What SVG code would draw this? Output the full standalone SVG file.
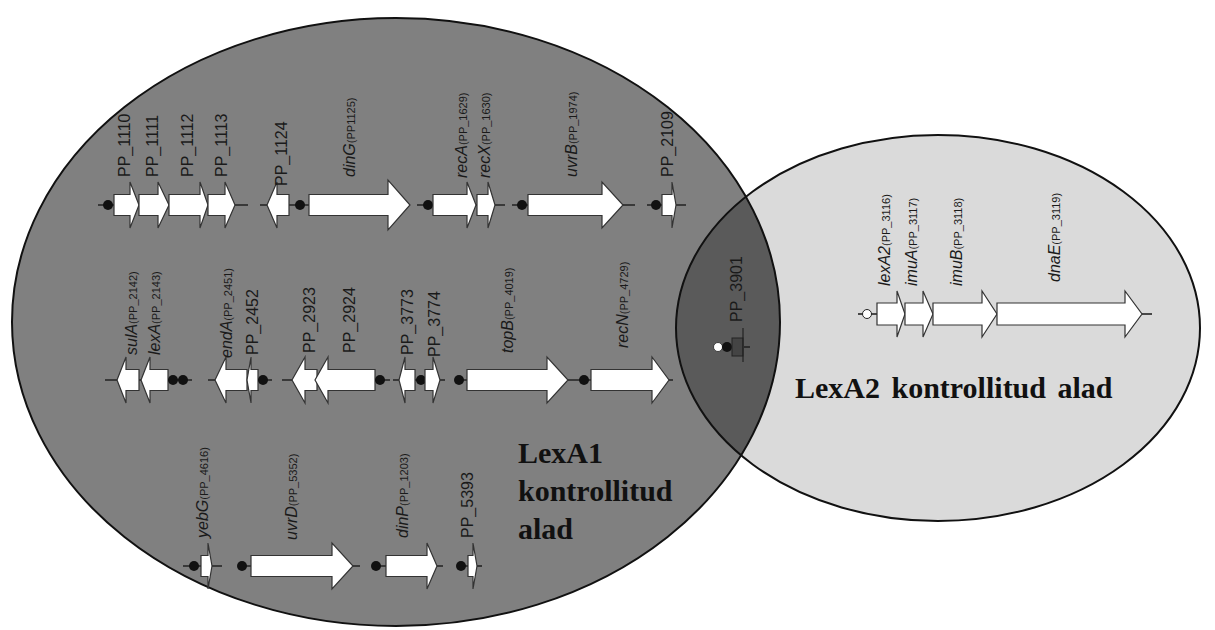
<svg xmlns="http://www.w3.org/2000/svg" width="1215" height="630" viewBox="0 0 1215 630">
<style>
.gene{fill:#fff;stroke:#333;stroke-width:1.2;stroke-linejoin:miter}
.ln{stroke:#222;stroke-width:1.6;fill:none}
.dot{fill:#111}
.lbl{font-family:"Liberation Sans",Arial,sans-serif;font-size:16px;fill:#1a1a1a}
.it{font-style:italic}
.sub{font-size:11px}
.big{font-family:"Liberation Serif","Times New Roman",serif;font-weight:bold;font-size:30px;fill:#111}
</style>
<defs>
<clipPath id="bigClip"><ellipse cx="396" cy="322" rx="384" ry="304"/></clipPath>
</defs>
<rect width="1215" height="630" fill="#fff"/>
<g id="regions">
<ellipse id="lexa1-region" cx="396" cy="322" rx="384" ry="304" fill="#808080"/>
<ellipse id="lexa2-region" cx="938" cy="328" rx="262" ry="193" fill="#dadada"/>
<ellipse id="overlap" cx="938" cy="328" rx="262" ry="193" fill="#5a5a5a" clip-path="url(#bigClip)"/>
<ellipse cx="396" cy="322" rx="384" ry="304" fill="none" stroke="#111" stroke-width="2"/>
<ellipse cx="938" cy="328" rx="262" ry="193" fill="none" stroke="#111" stroke-width="2"/>
</g>
<g id="connectors">
<line class="ln" x1="98" y1="205" x2="248" y2="205"/>
<line class="ln" x1="260" y1="205" x2="309" y2="205"/>
<line class="ln" x1="417" y1="205" x2="505" y2="205"/>
<line class="ln" x1="512" y1="205" x2="635" y2="205"/>
<line class="ln" x1="647" y1="205" x2="686" y2="205"/>
<line class="ln" x1="105" y1="380" x2="192" y2="380"/>
<line class="ln" x1="208" y1="380" x2="272" y2="380"/>
<line class="ln" x1="282" y1="380" x2="390" y2="380"/>
<line class="ln" x1="393" y1="380" x2="445" y2="380"/>
<line class="ln" x1="455" y1="380" x2="577" y2="380"/>
<line class="ln" x1="577" y1="380" x2="673" y2="380"/>
<line class="ln" x1="183" y1="566" x2="222" y2="566"/>
<line class="ln" x1="238" y1="566" x2="360" y2="566"/>
<line class="ln" x1="372" y1="566" x2="443" y2="566"/>
<line class="ln" x1="457" y1="566" x2="482" y2="566"/>
<line class="ln" x1="858" y1="314" x2="877" y2="314"/>
<line class="ln" x1="1142" y1="314" x2="1152" y2="314"/>
<line class="ln" x1="744" y1="347" x2="750" y2="347"/>
</g>
<g id="row1">
<circle class="dot" cx="108" cy="205" r="5"/>
<g id="pp1110"><path class="gene" d="M114,194.5H130V182L139,205L130,228V215.5H114Z"/><text class="lbl" transform="translate(130,177) rotate(-90)">PP_1110</text></g>
<g id="pp1111"><path class="gene" d="M139,194.5H158V182L169,205L158,228V215.5H139Z"/><text class="lbl" transform="translate(158,177) rotate(-90)">PP_1111</text></g>
<g id="pp1112"><path class="gene" d="M169,194.5H200V182L208,205L200,228V215.5H169Z"/><text class="lbl" transform="translate(193,177) rotate(-90)">PP_1112</text></g>
<g id="pp1113"><path class="gene" d="M208,194.5H225V182L235,205L225,228V215.5H208Z"/><text class="lbl" transform="translate(227,177) rotate(-90)">PP_1113</text></g>
<g id="pp1124"><path class="gene" d="M289,194.5H277V182L267,205L277,228V215.5H289Z"/><text class="lbl" transform="translate(287,186) rotate(-90)">PP_1124</text></g>
<circle class="dot" cx="300" cy="205" r="5"/>
<g id="dinG"><path class="gene" d="M309,194.5H388V180L410,205L388,230V215.5H309Z"/><text class="lbl" transform="translate(355,177) rotate(-90)"><tspan class="it">dinG</tspan><tspan class="sub">(PP1125)</tspan></text></g>
<circle class="dot" cx="428" cy="205" r="5"/>
<g id="recA"><path class="gene" d="M433,194.5H467V182L476,205L467,228V215.5H433Z"/><text class="lbl" transform="translate(467,178) rotate(-90)"><tspan class="it">recA</tspan><tspan class="sub">(PP_1629)</tspan></text></g>
<g id="recX"><path class="gene" d="M477,194.5H488V182L495,205L488,228V215.5H477Z"/><text class="lbl" transform="translate(490,178) rotate(-90)"><tspan class="it">recX</tspan><tspan class="sub">(PP_1630)</tspan></text></g>
<circle class="dot" cx="522" cy="205" r="5"/>
<g id="uvrB"><path class="gene" d="M528,194.5H602V182L623,205L602,228V215.5H528Z"/><text class="lbl" transform="translate(577,177) rotate(-90)"><tspan class="it">uvrB</tspan><tspan class="sub">(PP_1974)</tspan></text></g>
<circle class="dot" cx="656" cy="205" r="5"/>
<g id="pp2109"><path class="gene" d="M662,194.5H672V182L676,205L672,228V215.5H662Z"/><text class="lbl" transform="translate(673,177) rotate(-90)">PP_2109</text></g>
</g>
<g id="row2">
<g id="sulA"><path class="gene" d="M139,369.5H126V357L117,380L126,403V390.5H139Z"/><text class="lbl" transform="translate(137,355) rotate(-90)"><tspan class="it">sulA</tspan><tspan class="sub">(PP_2142)</tspan></text></g>
<g id="lexA"><path class="gene" d="M168,369.5H150V357L141,380L150,403V390.5H168Z"/><text class="lbl" transform="translate(160,355) rotate(-90)"><tspan class="it">lexA</tspan><tspan class="sub">(PP_2143)</tspan></text></g>
<circle class="dot" cx="173" cy="380" r="5"/>
<circle class="dot" cx="183" cy="380" r="5"/>
<g id="endA"><path class="gene" d="M247,369.5H226V357L215,380L226,403V390.5H247Z"/><text class="lbl" transform="translate(232,358) rotate(-90)"><tspan class="it">endA</tspan><tspan class="sub">(PP_2451)</tspan></text></g>
<g id="pp2452"><path class="gene" d="M258,369.5H251V357L247,380L251,403V390.5H258Z"/><text class="lbl" transform="translate(258,355) rotate(-90)">PP_2452</text></g>
<circle class="dot" cx="263" cy="380" r="5"/>
<g id="pp2923"><path class="gene" d="M317,369.5H305V357L292,380L305,403V390.5H317Z"/><text class="lbl" transform="translate(315,353) rotate(-90)">PP_2923</text></g>
<g id="pp2924"><path class="gene" d="M375,369.5H328V357L315,380L328,403V390.5H375Z"/><text class="lbl" transform="translate(355,353) rotate(-90)">PP_2924</text></g>
<circle class="dot" cx="380" cy="380" r="5"/>
<g id="pp3773"><path class="gene" d="M415,369.5H405V357L399,380L405,403V390.5H415Z"/><text class="lbl" transform="translate(413,355) rotate(-90)">PP_3773</text></g>
<circle class="dot" cx="421" cy="380" r="5"/>
<g id="pp3774"><path class="gene" d="M425,369.5H433V357L440,380L433,403V390.5H425Z"/><text class="lbl" transform="translate(440,357) rotate(-90)">PP_3774</text></g>
<circle class="dot" cx="459" cy="380" r="5"/>
<g id="topB"><path class="gene" d="M467,369.5H547V357L568,380L547,403V390.5H467Z"/><text class="lbl" transform="translate(513,353) rotate(-90)"><tspan class="it">topB</tspan><tspan class="sub">(PP_4019)</tspan></text></g>
<circle class="dot" cx="584" cy="380" r="5"/>
<g id="recN"><path class="gene" d="M591,369.5H652V357L669,380L652,403V390.5H591Z"/><text class="lbl" transform="translate(628,348) rotate(-90)"><tspan class="it">recN</tspan><tspan class="sub">(PP_4729)</tspan></text></g>
</g>
<g id="row3">
<circle class="dot" cx="194" cy="566" r="5"/>
<g id="yebG"><path class="gene" d="M201,555.5H208V543L212,566L208,589V576.5H201Z"/><text class="lbl" transform="translate(208,538) rotate(-90)"><tspan class="it">yebG</tspan><tspan class="sub">(PP_4616)</tspan></text></g>
<circle class="dot" cx="242" cy="566" r="5"/>
<g id="uvrD"><path class="gene" d="M251,555.5H332V543L353,566L332,589V576.5H251Z"/><text class="lbl" transform="translate(297,540) rotate(-90)"><tspan class="it">uvrD</tspan><tspan class="sub">(PP_5352)</tspan></text></g>
<circle class="dot" cx="376" cy="566" r="5"/>
<g id="dinP"><path class="gene" d="M386,555.5H427V543L437,566L427,589V576.5H386Z"/><text class="lbl" transform="translate(408,538) rotate(-90)"><tspan class="it">dinP</tspan><tspan class="sub">(PP_1203)</tspan></text></g>
<circle class="dot" cx="461" cy="566" r="5"/>
<g id="pp5393"><path class="gene" d="M468,555.5H473V543L477,566L473,589V576.5H468Z"/><text class="lbl" transform="translate(473,538) rotate(-90)">PP_5393</text></g>
</g>
<g id="pp3901">
<circle cx="718" cy="347" r="4.5" fill="#fff" stroke="#222" stroke-width="0.8"/>
<circle class="dot" cx="727" cy="347" r="5"/>
<rect x="732" y="338" width="11" height="18" fill="#444" stroke="#222" stroke-width="1"/>
<line x1="743" y1="328" x2="743" y2="362" stroke="#222" stroke-width="1.2"/>
<text class="lbl" transform="translate(742,322) rotate(-90)">PP_3901</text>
</g>
<g id="row4">
<circle cx="867" cy="314" r="4.5" fill="#fff" stroke="#222" stroke-width="1"/>
<g id="lexA2"><path class="gene" d="M877,303H897V291L905,314L897,337V325H877Z"/><text class="lbl" transform="translate(890,286) rotate(-90)"><tspan class="it">lexA2</tspan><tspan class="sub">(PP_3116)</tspan></text></g>
<g id="imuA"><path class="gene" d="M905,303H923V291L933,314L923,337V325H905Z"/><text class="lbl" transform="translate(917,286) rotate(-90)"><tspan class="it">imuA</tspan><tspan class="sub">(PP_3117)</tspan></text></g>
<g id="imuB"><path class="gene" d="M933,303H982V291L997,314L982,337V325H933Z"/><text class="lbl" transform="translate(962,286) rotate(-90)"><tspan class="it">imuB</tspan><tspan class="sub">(PP_3118)</tspan></text></g>
<g id="dnaE"><path class="gene" d="M997,303H1125V291L1142,314L1125,337V325H997Z"/><text class="lbl" transform="translate(1060,282) rotate(-90)"><tspan class="it">dnaE</tspan><tspan class="sub">(PP_3119)</tspan></text></g>
</g>
<g id="titles">
<text class="big" x="518" y="463">LexA1</text>
<text class="big" x="518" y="501">kontrollitud</text>
<text class="big" x="518" y="539">alad</text>
<text class="big" x="795" y="398" font-size="31" word-spacing="4">LexA2 kontrollitud alad</text>
</g>
</svg>
